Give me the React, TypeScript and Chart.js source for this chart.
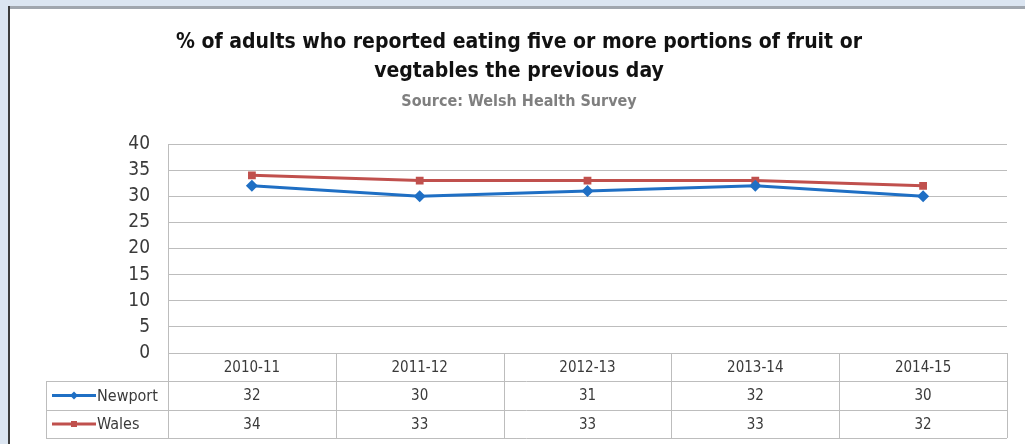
import React, { useEffect, useRef } from "react";
import { Chart, registerables } from "chart.js";

Chart.register(...registerables);

const categories = ["2010-11", "2011-12", "2012-13", "2013-14", "2014-15"];
const newport = [32, 30, 31, 32, 30];
const wales = [34, 33, 33, 33, 32];
const seriesNames = ["Newport", "Wales"];
const titleLines = [
  "% of adults who reported eating five or more portions of fruit or",
  "vegtables the previous day",
];
const subtitleText = "Source: Welsh Health Survey";

const FONT = '"Liberation Sans Narrow", "DejaVu Sans Condensed", "Open Sans", sans-serif';
const BLUE = "#1f6fc4";
const RED = "#c0504d";
const GRID = "#bdbdbd";
const TEXT = "#3a3a3a";

const framePlugin = {
  id: "frame",
  beforeDraw(chart: any) {
    const { ctx, width, height } = chart;
    ctx.save();
    ctx.fillStyle = "#dbe5f1";
    ctx.fillRect(0, 0, width, height);
    ctx.fillStyle = "#a0a6ae";
    ctx.fillRect(8, 6, width - 8, 3);
    ctx.fillStyle = "#3c3c3c";
    ctx.fillRect(8, 6, 2, height - 6);
    ctx.fillStyle = "#ffffff";
    ctx.fillRect(10, 9, width - 10, height - 9);
    ctx.restore();
  },
};

const tablePlugin = {
  id: "dataTable",
  afterDraw(chart: any) {
    const { ctx, chartArea } = chart;
    const x = chart.scales.x;
    const n = categories.length;
    const left = chartArea.left;
    const right = chartArea.right;
    const cw = (right - left) / n;
    const top = chartArea.bottom;
    const rowH = [28, 29, 28];
    const y1 = top + rowH[0];
    const y2 = y1 + rowH[1];
    const y3 = y2 + rowH[2];
    const legendLeft = 46;

    ctx.save();
    ctx.strokeStyle = GRID;
    ctx.lineWidth = 1;
    const hline = (xa: number, xb: number, y: number) => {
      ctx.beginPath();
      ctx.moveTo(xa, Math.round(y) + 0.5);
      ctx.lineTo(xb, Math.round(y) + 0.5);
      ctx.stroke();
    };
    const vline = (xx: number, ya: number, yb: number) => {
      ctx.beginPath();
      ctx.moveTo(Math.round(xx) + 0.5, ya);
      ctx.lineTo(Math.round(xx) + 0.5, yb);
      ctx.stroke();
    };
    hline(legendLeft, right, y1);
    hline(legendLeft, right, y2);
    hline(legendLeft, right, y3);
    vline(legendLeft, y1, y3);
    for (let i = 0; i <= n; i++) {
      vline(left + i * cw, top, y3);
    }

    ctx.fillStyle = TEXT;
    ctx.font = `15px ${FONT}`;
    ctx.textAlign = "center";
    ctx.textBaseline = "middle";
    const rows = [newport, wales];
    categories.forEach((c, i) => {
      const cx = x.getPixelForValue(i);
      ctx.fillText(c, cx, top + rowH[0] / 2 + 1);
      ctx.fillText(String(rows[0][i]), cx, y1 + rowH[1] / 2 + 1);
      ctx.fillText(String(rows[1][i]), cx, y2 + rowH[2] / 2 + 1);
    });

    // legend keys
    const keys = [
      { name: seriesNames[0], color: BLUE, style: "diamond", y: y1 + rowH[1] / 2 },
      { name: seriesNames[1], color: RED, style: "square", y: y2 + rowH[2] / 2 },
    ];
    ctx.font = `16px ${FONT}`;
    keys.forEach((k) => {
      ctx.strokeStyle = k.color;
      ctx.lineWidth = 3;
      ctx.beginPath();
      ctx.moveTo(52, k.y);
      ctx.lineTo(96, k.y);
      ctx.stroke();
      ctx.fillStyle = k.color;
      if (k.style === "diamond") {
        ctx.beginPath();
        ctx.moveTo(74, k.y - 4);
        ctx.lineTo(78, k.y);
        ctx.lineTo(74, k.y + 4);
        ctx.lineTo(70, k.y);
        ctx.closePath();
        ctx.fill();
      } else {
        ctx.fillRect(71, k.y - 3, 6, 6);
      }
      ctx.fillStyle = TEXT;
      ctx.textAlign = "left";
      ctx.fillText(k.name, 97, k.y + 1);
    });
    ctx.restore();
  },
};

export default function App() {
  const ref = useRef<HTMLCanvasElement | null>(null);
  useEffect(() => {
    if (!ref.current) return;
    const chart = new Chart(ref.current, {
      type: "line",
      data: {
        labels: categories,
        datasets: [
          {
            label: seriesNames[0],
            data: newport,
            borderColor: BLUE,
            backgroundColor: BLUE,
            borderWidth: 3,
            pointStyle: "rectRot",
            pointRadius: 6,
            pointBorderWidth: 0,
            tension: 0,
          },
          {
            label: seriesNames[1],
            data: wales,
            borderColor: RED,
            backgroundColor: RED,
            borderWidth: 3,
            pointStyle: "rect",
            pointRadius: 5.5,
            pointBorderWidth: 0,
            tension: 0,
          },
        ],
      },
      plugins: [framePlugin, tablePlugin],
      options: {
        animation: false,
        responsive: false,
        maintainAspectRatio: false,
        layout: { padding: { top: 8, left: 31, right: 18, bottom: 91 } },
        plugins: {
          legend: { display: false },
          tooltip: { enabled: false },
          title: {
            display: true,
            text: titleLines,
            color: "#111111",
            font: { family: FONT, size: 21, weight: "bold", lineHeight: 29 / 21 },
            padding: { top: 20.5, bottom: 6.5 },
          },
          subtitle: {
            display: true,
            text: subtitleText,
            color: "#7f7f7f",
            font: { family: FONT, size: 16, weight: "bold", lineHeight: 18 / 16 },
            padding: { top: 0, bottom: 33 },
          },
        },
        scales: {
          x: {
            display: false,
            offset: true,
          },
          y: {
            min: 0,
            max: 40,
            afterFit(scale: any) {
              scale.width = 137;
            },
            ticks: {
              stepSize: 5,
              color: TEXT,
              padding: 18,
              font: { family: FONT, size: 19 },
            },
            grid: { color: GRID, lineWidth: 1, drawTicks: false },
            border: { color: GRID, width: 1 },
          },
        },
      },
    });
    return () => chart.destroy();
  }, []);
  return (
    <div style={{ position: "absolute", left: 0, top: 0, width: 1025, height: 444 }}>
      <canvas ref={ref} width={1025} height={444} style={{ display: "block", width: 1025, height: 444 }} />
    </div>
  );
}
